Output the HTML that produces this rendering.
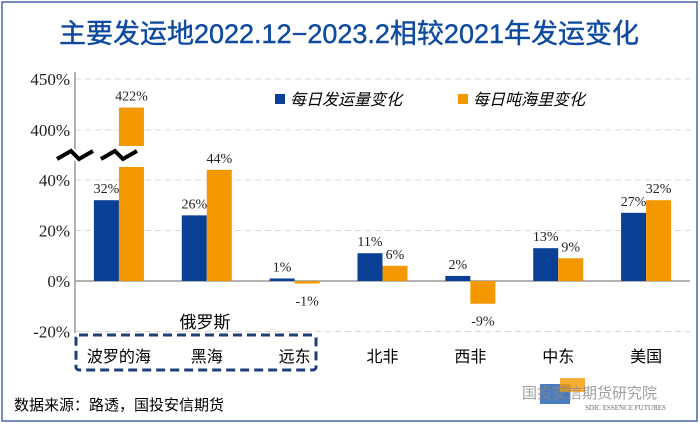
<!DOCTYPE html>
<html><head><meta charset="utf-8"><style>
body{margin:0;background:#fff;}
svg{display:block;font-family:"Liberation Serif","Noto Serif CJK SC",serif;}
.cjk{font-family:"Liberation Sans","Noto Sans CJK SC",sans-serif;}
</style></head><body>
<svg id="c" width="700" height="424" viewBox="0 0 700 424">
<rect x="2" y="2" width="695" height="419" fill="none" stroke="#4a67a6" stroke-width="1.5"/>
<text class="cjk" x="349" y="43" text-anchor="middle" font-size="27" fill="#0e4aa0" stroke="#0e4aa0" stroke-width="0.4">主要发运地2022.12−2023.2相较2021年发运变化</text>
<g id="grid"></g>
<g id="bars"></g>
<g id="labels"></g>
<g>
<rect x="275" y="94" width="10" height="10" fill="#0a3f96"/>
<text class="cjk" x="290" y="105" font-size="16" font-style="italic" fill="#000">每日发运量变化</text>
<rect x="458" y="94" width="10" height="10" fill="#f39800"/>
<text class="cjk" x="473" y="105" font-size="16" font-style="italic" fill="#000">每日吨海里变化</text>
</g>
<text class="cjk" x="205" y="328" text-anchor="middle" font-size="17" fill="#000">俄罗斯</text>
<rect x="76" y="335" width="240" height="35" rx="3" fill="none" stroke="#1f3f7a" stroke-width="3" stroke-dasharray="9,5"/>
<text class="cjk" x="14" y="410" font-size="15" fill="#000">数据来源：路透，国投安信期货</text>
<g>
<rect x="540" y="384" width="30" height="20" fill="#1e5bb0" opacity="0.8"/>
<rect x="560" y="378" width="25" height="14" fill="#f39800" opacity="0.8"/>
<text class="cjk" x="522" y="398" font-size="15" fill="#888" opacity="0.8">国投安信期货研究院</text>
<text x="585" y="410" font-size="7" fill="#666">SDIC ESSENCE FUTURES</text>
</g>
</svg>
<script>
const categories=["波罗的海","黑海","远东","北非","西非","中东","美国"];
const departures=[32,26,1,11,2,13,27];
const tonMiles=[422,44,-1,6,-9,9,32];
const yTicks=[-20,0,20,40,400,450];
const NS="http://www.w3.org/2000/svg";
const svg=document.getElementById('c');
const X0=75,X1=690,groupW=(X1-X0)/categories.length,barW=25;
function y(v){ if(v<=50) return 281-v*2.525; return 130-(v-400)*1.02; }
function xc(i){ return X0+groupW*(i+0.5); }
function mk(tag,attrs,parent,txt){const e=document.createElementNS(NS,tag);for(const k in attrs)e.setAttribute(k,attrs[k]);if(txt!==undefined)e.textContent=txt;parent.appendChild(e);return e;}
const grid=document.getElementById('grid'),bars=document.getElementById('bars'),labels=document.getElementById('labels');
yTicks.forEach(t=>{
 const g=mk('line',{x1:X0,x2:X1,y1:y(t),y2:y(t),stroke:t===0?'#999':'#d8d8d8','stroke-width':t===0?1.5:1,'stroke-dasharray':t===0?'':'6,4'},grid);
 
 
 const l=mk('text',{x:X0-5,y:y(t)+6,'text-anchor':'end','font-size':17,fill:'#222'},grid,t+'%');
 
 
});
const ax=mk('line',{x1:X0,x2:X0,y1:72,y2:333,stroke:'#999','stroke-width':1.5},grid);


function bar(v,x,color,name){
 let top,bot;
 if(v>50){
  const a=mk('rect',{x:x,y:y(0)-114,width:barW,height:114,fill:color},bars);
  
  
  const b=mk('rect',{x:x,y:y(v),width:barW,height:146-y(v),fill:color},bars);
  
  
  return y(v);
 }
 top=Math.min(y(v),y(0));bot=Math.max(y(v),y(0));
 const r=mk('rect',{x:x,y:top,width:barW,height:Math.max(bot-top,1.5),fill:color},bars);
 
 
 return v>=0?top:bot;
}
categories.forEach((c,i)=>{
 const cx=xc(i);
 const t1=bar(departures[i],cx-barW,'#0a3f96','bar-departures-'+i);
 const t2=bar(tonMiles[i],cx,'#f39800','bar-tonmiles-'+i);
 const l1=mk('text',{x:cx-barW/2,y:departures[i]>=0?t1-7:t1+22,'text-anchor':'middle','font-size':14,fill:'#222'},labels,departures[i]+'%');
 
 
 const l2=mk('text',{x:cx+barW/2,y:tonMiles[i]>=0?t2-7:t2+22,'text-anchor':'middle','font-size':14,fill:'#222'},labels,tonMiles[i]+'%');
 
 
 const cl=mk('text',{x:cx,y:362,'text-anchor':'middle','font-size':16,fill:'#000','class':'cjk'},labels,c);
 
 
});
[X0,xc(0)].forEach((bx,k)=>{
 const d=`M${bx-18} 159 L${bx-4} 151 L${bx+4} 159 L${bx+18} 151`;
 const w=mk('path',{d:d,fill:'none',stroke:'#fff','stroke-width':8},bars);
 
 
 const p=mk('path',{d:d,fill:'none',stroke:'#000','stroke-width':4},bars);
 
 
});
</script>
</body></html>
